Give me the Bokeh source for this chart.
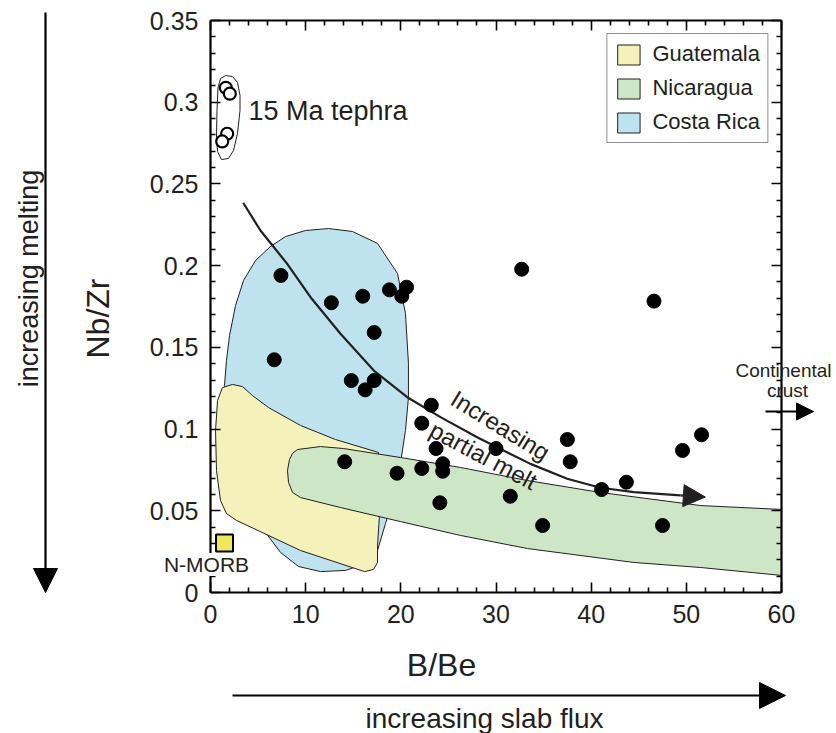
import numpy as np
from bokeh.plotting import figure
from bokeh.models import (Range1d, LinearAxis, FixedTicker, CustomJSTickFormatter,
                          Label, Arrow, NormalHead, Legend, LegendItem, GridBox)
from bokeh.embed import file_html
from bokeh.resources import INLINE

# ---------------- data ----------------
# arc lavas (filled circles)
bbe = [7.4, 6.7, 12.7, 16.0, 18.8, 20.6, 20.1, 17.2, 14.8, 17.2, 16.25, 23.2, 22.2, 23.7,
       30.0, 14.1, 19.6, 22.2, 24.4, 24.4, 24.1, 31.5, 32.7, 46.6, 37.5, 37.8, 43.7, 41.1,
       49.6, 51.6, 34.9, 47.5]
nbzr = [0.194, 0.1424, 0.1773, 0.1813, 0.1852, 0.1868, 0.1813, 0.1591, 0.1297, 0.1297,
        0.124, 0.1146, 0.1036, 0.0881, 0.0881, 0.080, 0.073, 0.0759, 0.0788, 0.0742,
        0.0549, 0.0589, 0.1978, 0.1783, 0.0936, 0.080, 0.0675, 0.063, 0.0869, 0.0965,
        0.041, 0.041]

# 15 Ma tephra (open circles) and its outline
tephra_bbe = [1.61, 2.03, 1.75, 1.23]
tephra_nbzr = [0.3088, 0.3052, 0.2807, 0.276]
tephra_loop_bbe = [1.58, 2.31, 2.84, 3.10, 3.10, 2.84, 2.42, 1.89, 1.16, 0.74, 0.63, 0.68, 0.79, 1.05]
tephra_loop_nbzr = [0.3163, 0.3157, 0.3121, 0.3041, 0.2949, 0.2809, 0.2705, 0.2656, 0.2649,
                    0.2698, 0.2784, 0.2949, 0.3090, 0.3145]

# N-MORB
nmorb_bbe = [1.47]
nmorb_nbzr = [0.0303]

# regional fields
costa_bbe = [12.40, 14.92, 17.55, 19.65, 20.49, 20.80, 20.80, 20.49, 19.96, 19.23, 18.39,
             17.55, 16.29, 14.19, 11.56, 9.25, 7.36, 5.46, 3.68, 2.31, 1.68, 1.47, 1.68,
             2.00, 2.63, 3.47, 4.73, 6.30, 7.88, 9.98]
costa_nbzr = [0.2227, 0.2209, 0.2136, 0.1952, 0.1707, 0.1401, 0.1193, 0.0991, 0.0790,
              0.0581, 0.0422, 0.0257, 0.0177, 0.0135, 0.0128, 0.0159, 0.0245, 0.0392,
              0.0594, 0.0838, 0.1052, 0.1267, 0.1420, 0.1573, 0.1756, 0.1909, 0.2031,
              0.2117, 0.2178, 0.2215]

guat_bbe = [1.26, 2.31, 3.36, 4.41, 6.09, 9.46, 13.13, 17.65, 17.86, 17.55, 17.55, 17.13,
            16.18, 9.46, 2.73, 1.68, 1.05, 0.63, 0.53, 0.74]
guat_nbzr = [0.1254, 0.1273, 0.1260, 0.1205, 0.1132, 0.1022, 0.0936, 0.0857, 0.0563,
             0.0288, 0.0184, 0.0141, 0.0128, 0.0257, 0.0441, 0.0483, 0.0563, 0.0746,
             0.0991, 0.1175]

nica_bbe = [9.14, 11.56, 13.97, 19.96, 26.27, 33.31, 40.98, 51.49, 60.10, 60.10, 51.49,
            44.45, 33.31, 26.27, 19.96, 13.66, 9.46, 8.62, 8.20, 8.09, 8.30, 8.62]
nica_nbzr = [0.0875, 0.0893, 0.0881, 0.0826, 0.0765, 0.0685, 0.0612, 0.0532, 0.0508,
             0.0104, 0.0153, 0.0184, 0.0269, 0.0349, 0.0434, 0.0520, 0.0581, 0.0612,
             0.0673, 0.0746, 0.0814, 0.0851]

# "increasing partial melt" trend
melt_bbe = [3.44, 5.25, 8.06, 10.51, 13.66, 17.16, 20.67, 24.17, 28.02, 33.62, 37.48,
            40.98, 44.48, 49.38]
melt_nbzr = [0.2385, 0.2215, 0.2011, 0.1807, 0.1583, 0.1358, 0.1195, 0.1073, 0.0950,
             0.0787, 0.0696, 0.0641, 0.0614, 0.0594]
melt_tip = (52.0, 0.0584)

# ticks
x_ticks = [0, 10, 20, 30, 40, 50, 60]
x_minor = [2, 4, 6, 8, 12, 14, 16, 18, 22, 24, 26, 28, 32, 34, 36, 38, 42, 44, 46, 48,
           52, 54, 56, 58]
y_ticks = [0, 0.05, 0.1, 0.15, 0.2, 0.25, 0.3, 0.35]
y_minor = [0.01, 0.02, 0.03, 0.04, 0.06, 0.07, 0.08, 0.09, 0.11, 0.12, 0.13, 0.14, 0.16,
           0.17, 0.18, 0.19, 0.21, 0.22, 0.23, 0.24, 0.26, 0.27, 0.28, 0.29, 0.31, 0.32,
           0.33, 0.34]

FONT = "Liberation Sans"
INK = "#231f20"
W, H = 836, 733

p = figure(width=W, height=H, x_range=Range1d(0, 60), y_range=Range1d(0, 0.35),
           output_backend="svg", toolbar_location=None, x_axis_type=None, y_axis_type=None,
           min_border_left=210, min_border_right=55, min_border_top=20, min_border_bottom=141)
p.frame_align = False
p.background_fill_color = "white"
p.border_fill_color = "white"
p.outline_line_color = None
p.xgrid.grid_line_color = None
p.ygrid.grid_line_color = None

blank = "return '';"
yfmt = "return (Math.round(tick*100)/100).toString();"
bottom = LinearAxis(ticker=FixedTicker(ticks=x_ticks, minor_ticks=x_minor))
left = LinearAxis(ticker=FixedTicker(ticks=y_ticks, minor_ticks=y_minor),
                  formatter=CustomJSTickFormatter(code=yfmt))
top = LinearAxis(ticker=FixedTicker(ticks=x_ticks, minor_ticks=x_minor),
                 formatter=CustomJSTickFormatter(code=blank))
right = LinearAxis(ticker=FixedTicker(ticks=y_ticks, minor_ticks=y_minor),
                   formatter=CustomJSTickFormatter(code=blank))
p.add_layout(bottom, "below")
p.add_layout(left, "left")
p.add_layout(top, "above")
p.add_layout(right, "right")
for ax in [bottom, left, top, right]:
    ax.axis_line_width = 2.2
    ax.axis_line_color = "black"
    ax.major_tick_in = 10
    ax.major_tick_out = 0
    ax.minor_tick_in = 5
    ax.minor_tick_out = 0
    ax.major_tick_line_width = 1.6
    ax.minor_tick_line_width = 1.6
    ax.major_tick_line_color = "black"
    ax.minor_tick_line_color = "black"
    ax.major_label_text_font = FONT
    ax.major_label_text_font_size = "25px"
    ax.major_label_text_color = INK
    ax.major_label_standoff = 12
for ax in [top, right]:
    ax.major_label_text_font_size = "1px"
    ax.major_label_standoff = 0

# fields
r_cr = p.patch(costa_bbe, costa_nbzr, fill_color="#bee3ee", line_color=INK, line_width=1)
r_gu = p.patch(guat_bbe, guat_nbzr, fill_color="#f4f2ba", line_color=INK, line_width=1)
r_ni = p.patch(nica_bbe, nica_nbzr, fill_color="#cde6c6", line_color=INK, line_width=1)

# tephra loop and points
p.patch(tephra_loop_bbe, tephra_loop_nbzr, fill_color=None, line_color=INK, line_width=1)
p.scatter(tephra_bbe, tephra_nbzr, marker="circle", size=12, fill_color="white",
          line_color="black", line_width=2.2)

# melt trend line
p.line(melt_bbe, melt_nbzr, line_color=INK, line_width=2.2)
p.add_layout(Arrow(end=NormalHead(size=22, fill_color=INK, line_color=INK),
                   x_start=melt_bbe[-1], y_start=melt_nbzr[-1],
                   x_end=melt_tip[0], y_end=melt_tip[1], line_width=2.2, line_color=INK))

# data points
p.scatter(bbe, nbzr, marker="circle", size=14, fill_color="black", line_color="black")

# N-MORB
p.scatter(nmorb_bbe, nmorb_nbzr, marker="square", size=17, fill_color="#eee85a",
          line_color="black", line_width=2)

# legend
legend = Legend(items=[LegendItem(label="Guatemala", renderers=[r_gu]),
                       LegendItem(label="Nicaragua", renderers=[r_ni]),
                       LegendItem(label="Costa Rica", renderers=[r_cr])],
                location="top_right", margin=13, padding=7, spacing=8,
                glyph_width=28, glyph_height=25, label_height=25, label_standoff=10,
                label_text_font=FONT, label_text_font_size="22px", label_text_color=INK,
                border_line_color=INK, border_line_width=1, background_fill_color="white",
                background_fill_alpha=1)
p.add_layout(legend)


def lab(fig, x, y, text, size, angle=0, align="center", baseline="middle", bg=None):
    l = Label(x=x, y=y, text=text, text_font=FONT, text_font_size=size, text_color=INK,
              text_align=align, text_baseline=baseline, angle=angle)
    if bg:
        l.background_fill_color = bg
    fig.add_layout(l)


lab(p, 3.99, 0.2949, "15 Ma tephra", "27px", align="left")
lab(p, 30.47, 0.1022, "Increasing", "24px", angle=-0.55)
lab(p, 28.69, 0.0838, "partial melt", "24px", angle=-0.49)

# ---------------- overlay for decorations outside the frame ----------------
ov = figure(width=W, height=H, x_range=Range1d(0, W), y_range=Range1d(0, H),
            output_backend="svg", toolbar_location=None, x_axis_type=None, y_axis_type=None,
            min_border=0)
ov.frame_align = False
ov.outline_line_color = None
ov.background_fill_alpha = 0
ov.border_fill_alpha = 0
ov.xgrid.grid_line_color = None
ov.ygrid.grid_line_color = None


def sy(py):
    return H - py


lab(ov, 206, sy(564), "N-MORB", "21px", bg="white")
lab(ov, 97, sy(318), "Nb/Zr", "32px", angle=np.pi / 2)
lab(ov, 28, sy(278), "increasing melting", "27px", angle=np.pi / 2)
lab(ov, 441, sy(664), "B/Be", "32px")
lab(ov, 484, sy(718), "increasing slab flux", "28px")
lab(ov, 783, sy(370), "Continental", "19px")
lab(ov, 787, sy(390), "crust", "19px")

ov.add_layout(Arrow(end=NormalHead(size=24, fill_color="black", line_color="black"),
                    x_start=45, y_start=sy(12), x_end=45, y_end=sy(592),
                    line_width=2.2, line_color="black"))
ov.add_layout(Arrow(end=NormalHead(size=26, fill_color="black", line_color="black"),
                    x_start=232, y_start=sy(695), x_end=785, y_end=sy(695),
                    line_width=2.2, line_color="black"))
ov.add_layout(Arrow(end=NormalHead(size=17, fill_color="black", line_color="black"),
                    x_start=765, y_start=sy(411), x_end=813, y_end=sy(411),
                    line_width=2, line_color="black"))

layout = GridBox(children=[(p, 0, 0), (ov, 0, 0)])
open("out.html", "w").write(file_html(layout, INLINE))
